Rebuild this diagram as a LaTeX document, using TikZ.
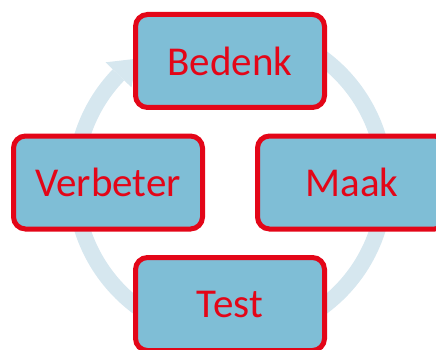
\documentclass[tikz,border=0pt]{standalone}
\usepackage{fontspec}
\setmainfont{Carlito}
\definecolor{boxfill}{RGB}{127,190,214}
\definecolor{boxred}{RGB}{227,6,24}
\definecolor{ringblue}{RGB}{214,231,239}
\begin{document}
\begin{tikzpicture}[x=1pt,y=1pt,
  stagebox/.style={draw=boxred, line width=5pt, fill=boxfill, rounded corners=12pt,
    minimum width=189pt, minimum height=93pt, text=boxred,
    font=\fontsize{41}{49}\selectfont, inner sep=0pt},
  ringline/.style={draw=ringblue, line width=16pt}]
\useasboundingbox (0,0) rectangle (436,-350);
\clip (0,0) rectangle (436,-350);
\coordinate (c) at (230,-182.5);
% circular arrow behind the boxes
\draw[ringline] ([shift={(c)}]70:155) arc[start angle=70, end angle=-224, radius=155];
\fill[ringblue] ([shift={(c)}]136:173) -- ([shift={(c)}]127:155) -- ([shift={(c)}]136:137) -- cycle;
% boxes
\node[stagebox] (bedenk) at (230,-61) {Bedenk};
\node[stagebox] (maak) at (352,-182.5) {Maak};
\node[stagebox] (test) at (230,-304) {Test};
\node[stagebox] (verbeter) at (108,-182.5) {Verbeter};
\end{tikzpicture}
\end{document}
